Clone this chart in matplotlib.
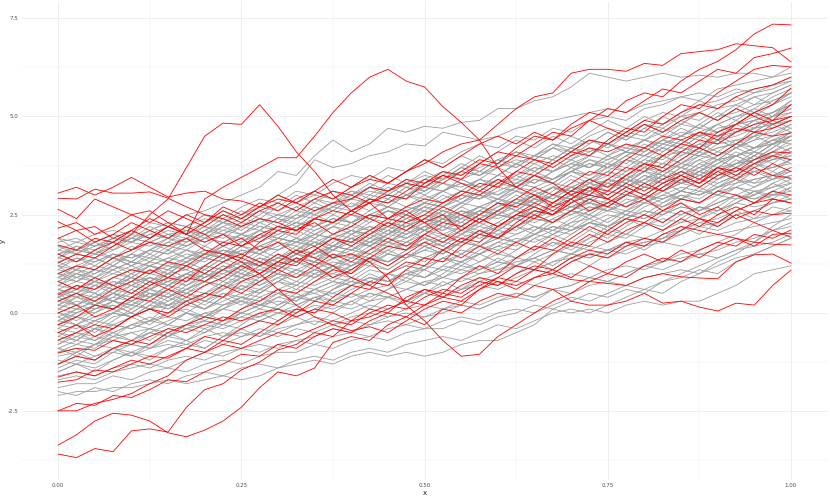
import matplotlib
matplotlib.use("Agg")
import matplotlib.pyplot as plt
from matplotlib.ticker import FixedLocator

x_vals = [0.0, 0.025, 0.05, 0.075, 0.1, 0.125, 0.15, 0.175, 0.2, 0.225,
          0.25, 0.275, 0.3, 0.325, 0.35, 0.375, 0.4, 0.425, 0.45, 0.475,
          0.5, 0.525, 0.55, 0.575, 0.6, 0.625, 0.65, 0.675, 0.7, 0.725,
          0.75, 0.775, 0.8, 0.825, 0.85, 0.875, 0.9, 0.925, 0.95, 0.975, 1.0]

x_ticks = [0.0, 0.25, 0.5, 0.75, 1.0]
x_tick_labels = ["0.00", "0.25", "0.50", "0.75", "1.00"]
y_ticks = [-2.5, 0.0, 2.5, 5.0, 7.5]
y_tick_labels = ["-2.5", "0.0", "2.5", "5.0", "7.5"]

grey_lines = [
    [-2.1,-2.0,-2.0,-1.9,-1.9,-1.8,-1.7,-1.8,-1.7,-1.6,-1.7,-1.6,-1.4,-1.3,-1.2,-1.3,-1.1,-1.0,-1.1,-1.0,-1.1,-1.0,-0.8,-0.7,-0.7,-0.5,-0.3,0.1,0.0,0.1,0.0,0.2,0.3,0.2,0.3,0.3,0.5,0.7,1.0,1.1,1.2],
    [-2.0,-2.1,-1.9,-2.0,-1.8,-1.7,-1.8,-1.6,-1.5,-1.6,-1.4,-1.3,-1.4,-1.2,-1.1,-1.2,-1.0,-0.9,-1.0,-0.8,-0.7,-0.6,-0.7,-0.5,-0.3,-0.4,-0.2,0.0,0.1,0.0,0.2,0.4,0.6,0.5,0.8,1.0,1.3,1.5,1.8,2.2,2.5],
    [-1.9,-1.8,-1.8,-1.6,-1.7,-1.5,-1.4,-1.5,-1.3,-1.2,-1.3,-1.1,-1.0,-1.0,-0.8,-0.9,-0.7,-0.6,-0.7,-0.5,-0.4,-0.4,-0.2,-0.3,-0.1,0.0,0.2,0.1,0.3,0.5,0.4,0.6,0.5,0.8,0.9,1.1,1.0,1.3,1.5,1.7,1.9],
    [-1.7,-1.6,-1.7,-1.5,-1.4,-1.3,-1.4,-1.2,-1.0,-1.1,-0.9,-0.8,-0.9,-0.7,-0.6,-0.4,-0.5,-0.3,-0.2,-0.3,-0.1,0.0,0.2,0.1,0.3,0.4,0.3,0.6,0.7,0.9,0.8,1.0,1.2,1.3,1.5,1.6,1.8,2.0,2.3,2.5,2.7],
    [-1.5,-1.3,-1.4,-1.2,-1.0,-1.1,-0.9,-0.8,-0.9,-0.6,-0.5,-0.6,-0.4,-0.3,-0.1,-0.2,0.0,0.2,0.1,0.3,0.5,0.4,0.6,0.8,0.7,0.9,1.1,1.0,1.3,1.5,1.4,1.6,1.8,1.9,2.1,2.3,2.4,2.6,2.8,3.0,3.2],
    [-1.3,-1.1,-1.2,-0.9,-1.0,-0.8,-0.6,-0.7,-0.5,-0.3,-0.4,-0.2,0.0,-0.1,0.1,0.3,0.2,0.5,0.4,0.6,0.8,0.7,0.9,1.1,1.3,1.2,1.4,1.6,1.5,1.8,2.0,1.9,2.2,2.4,2.3,2.6,2.8,3.0,3.2,3.4,3.6],
    [-1.2,-1.3,-1.1,-1.0,-1.1,-0.9,-0.8,-0.9,-0.7,-0.8,-0.6,-0.5,-0.6,-0.4,-0.5,-0.3,-0.2,-0.3,-0.1,0.0,-0.1,0.1,0.2,0.1,0.3,0.5,0.4,0.6,0.7,0.9,0.8,1.0,1.2,1.1,1.3,1.5,1.6,1.8,1.9,2.1,2.2],
    [-1.0,-0.8,-0.9,-0.6,-0.5,-0.7,-0.4,-0.3,-0.1,-0.2,0.0,0.2,0.1,0.4,0.5,0.3,0.6,0.8,0.7,1.0,1.2,1.1,1.3,1.5,1.7,1.6,1.9,2.1,2.0,2.3,2.5,2.4,2.7,2.9,3.1,3.0,3.3,3.5,3.8,4.0,4.2],
    [-0.9,-1.0,-0.8,-0.7,-0.8,-0.5,-0.6,-0.4,-0.3,-0.4,-0.2,-0.1,0.1,0.0,0.2,0.1,0.3,0.5,0.4,0.6,0.5,0.7,0.9,0.8,1.0,1.2,1.1,1.3,1.5,1.4,1.6,1.8,1.7,2.0,2.1,2.3,2.2,2.5,2.6,2.8,2.9],
    [-0.8,-0.6,-0.7,-0.5,-0.3,-0.4,-0.2,0.0,-0.1,0.2,0.3,0.1,0.4,0.6,0.5,0.7,0.9,0.8,1.0,1.2,1.1,1.4,1.3,1.5,1.7,1.9,1.8,2.0,2.2,2.1,2.4,2.6,2.5,2.8,3.0,2.9,3.2,3.4,3.6,3.7,3.9],
    [-0.7,-0.5,-0.6,-0.3,-0.4,-0.2,0.0,0.1,-0.1,0.2,0.4,0.3,0.6,0.5,0.8,1.0,0.9,1.2,1.1,1.4,1.6,1.5,1.8,1.7,2.0,2.2,2.1,2.4,2.6,2.5,2.8,3.0,3.2,3.1,3.4,3.6,3.8,4.0,4.2,4.4,4.6],
    [-0.6,-0.7,-0.4,-0.5,-0.3,-0.2,-0.3,0.0,-0.1,0.1,0.3,0.2,0.4,0.3,0.6,0.5,0.7,0.9,0.8,1.0,0.9,1.2,1.1,1.3,1.5,1.4,1.6,1.8,1.7,1.9,2.1,2.0,2.3,2.2,2.5,2.7,2.6,2.9,3.0,3.2,3.4],
    [-0.5,-0.3,-0.4,-0.1,0.0,-0.2,0.2,0.3,0.1,0.4,0.6,0.5,0.8,0.7,1.0,1.2,1.1,1.4,1.3,1.6,1.8,1.7,2.0,2.2,2.1,2.4,2.6,2.5,2.8,3.0,2.9,3.2,3.4,3.6,3.5,3.8,4.0,4.2,4.4,4.7,4.9],
    [-0.4,-0.5,-0.2,-0.3,-0.1,0.1,0.0,0.2,0.1,0.3,0.5,0.4,0.6,0.8,0.7,0.9,0.8,1.1,1.0,1.2,1.4,1.3,1.5,1.7,1.6,1.8,2.0,1.9,2.1,2.3,2.2,2.5,2.4,2.7,2.9,2.8,3.1,3.2,3.4,3.5,3.7],
    [-0.3,-0.1,-0.2,0.0,0.2,0.1,0.3,0.5,0.4,0.6,0.8,0.7,0.9,1.1,1.0,1.2,1.4,1.3,1.5,1.4,1.7,1.9,1.8,2.0,2.2,2.1,2.4,2.3,2.6,2.8,2.7,3.0,2.9,3.2,3.4,3.3,3.6,3.8,3.9,4.1,4.3],
    [-0.2,-0.3,-0.1,0.0,-0.1,0.1,0.2,0.0,0.3,0.2,0.4,0.3,0.5,0.4,0.6,0.8,0.7,0.9,0.8,1.0,1.1,0.9,1.2,1.1,1.3,1.2,1.4,1.6,1.5,1.7,1.6,1.8,1.9,1.8,2.0,2.2,2.1,2.3,2.4,2.5,2.6],
    [-0.1,0.1,0.0,0.3,0.2,0.5,0.4,0.6,0.8,0.7,1.0,0.9,1.2,1.4,1.3,1.6,1.5,1.8,2.0,1.9,2.2,2.1,2.4,2.6,2.5,2.8,3.0,2.9,3.2,3.4,3.3,3.6,3.8,3.7,4.0,4.2,4.4,4.6,4.8,5.0,5.2],
    [0.0,0.2,0.1,0.3,0.2,0.4,0.6,0.5,0.7,0.9,0.8,1.0,1.2,1.1,1.3,1.2,1.5,1.4,1.6,1.8,1.7,1.9,2.1,2.0,2.2,2.4,2.3,2.5,2.7,2.6,2.8,3.0,2.9,3.1,3.3,3.2,3.5,3.6,3.8,3.9,4.0],
    [0.1,0.0,0.2,0.1,0.3,0.5,0.4,0.6,0.5,0.7,0.6,0.8,1.0,0.9,1.1,1.0,1.2,1.4,1.3,1.5,1.4,1.6,1.8,1.7,1.9,1.8,2.0,2.2,2.1,2.3,2.2,2.4,2.6,2.5,2.7,2.6,2.8,3.0,2.9,3.0,3.1],
    [0.2,0.4,0.3,0.5,0.7,0.6,0.8,1.0,0.9,1.1,1.3,1.2,1.4,1.6,1.5,1.7,1.9,1.8,2.0,2.2,2.1,2.3,2.5,2.4,2.6,2.8,2.7,3.0,2.9,3.2,3.4,3.3,3.6,3.5,3.8,4.0,3.9,4.2,4.4,4.5,4.7],
    [0.3,0.2,0.4,0.3,0.5,0.4,0.7,0.6,0.8,1.0,0.9,1.1,1.0,1.3,1.2,1.4,1.6,1.5,1.7,1.6,1.8,2.0,1.9,2.1,2.0,2.2,2.4,2.3,2.5,2.7,2.6,2.8,3.0,2.9,3.1,3.0,3.2,3.4,3.3,3.4,3.5],
    [0.4,0.6,0.5,0.8,0.7,1.0,0.9,1.2,1.4,1.3,1.6,1.5,1.8,1.7,2.0,2.2,2.1,2.4,2.3,2.6,2.8,2.7,3.0,2.9,3.2,3.4,3.3,3.6,3.8,3.7,4.0,4.2,4.1,4.4,4.6,4.5,4.8,5.0,5.1,5.3,5.5],
    [0.5,0.4,0.6,0.8,0.7,0.9,0.8,1.0,1.2,1.1,1.3,1.2,1.4,1.6,1.5,1.7,1.6,1.9,1.8,2.0,2.2,2.1,2.3,2.2,2.5,2.4,2.6,2.8,2.7,2.9,3.1,3.0,3.2,3.4,3.3,3.5,3.4,3.6,3.8,3.7,3.9],
    [0.6,0.8,0.7,0.9,1.1,1.0,1.2,1.1,1.4,1.3,1.5,1.7,1.6,1.8,1.7,2.0,1.9,2.1,2.3,2.2,2.4,2.3,2.6,2.5,2.7,2.9,2.8,3.0,3.2,3.1,3.3,3.2,3.5,3.4,3.7,3.6,3.9,4.0,4.2,4.3,4.4],
    [0.7,0.6,0.8,0.7,0.9,0.8,1.0,1.1,0.9,1.2,1.1,1.3,1.2,1.4,1.3,1.5,1.4,1.6,1.8,1.7,1.9,1.8,2.0,1.9,2.1,2.0,2.2,2.1,2.3,2.4,2.2,2.5,2.4,2.6,2.5,2.7,2.6,2.8,2.7,2.8,2.9],
    [0.8,1.0,0.9,1.1,1.3,1.2,1.4,1.6,1.5,1.7,1.9,1.8,2.0,2.2,2.1,2.3,2.5,2.4,2.6,2.5,2.8,2.7,3.0,2.9,3.2,3.1,3.4,3.3,3.6,3.5,3.8,3.7,4.0,3.9,4.2,4.1,4.4,4.5,4.7,4.8,5.0],
    [0.9,0.8,1.0,1.2,1.1,1.3,1.2,1.4,1.3,1.6,1.5,1.7,1.9,1.8,2.0,1.9,2.1,2.0,2.3,2.2,2.4,2.3,2.5,2.7,2.6,2.8,2.7,3.0,2.9,3.1,3.3,3.2,3.4,3.3,3.6,3.5,3.7,3.8,3.9,4.0,4.1],
    [1.0,1.2,1.1,1.4,1.3,1.6,1.5,1.8,2.0,1.9,2.2,2.1,2.4,2.3,2.6,2.8,2.7,3.0,2.9,3.2,3.1,3.4,3.6,3.5,3.8,3.7,4.0,4.2,4.1,4.4,4.3,4.6,4.5,4.8,5.0,4.9,5.2,5.3,5.5,5.6,5.8],
    [1.1,1.0,1.2,1.1,1.3,1.2,1.4,1.3,1.5,1.6,1.4,1.7,1.6,1.8,1.7,1.9,1.8,2.0,2.2,2.1,2.3,2.2,2.4,2.3,2.5,2.4,2.6,2.5,2.7,2.8,2.6,2.9,2.8,3.0,2.9,3.1,3.0,3.2,3.1,3.2,3.3],
    [1.2,1.1,1.3,1.5,1.4,1.6,1.5,1.7,1.9,1.8,2.0,1.9,2.1,2.3,2.2,2.4,2.3,2.5,2.7,2.6,2.8,2.7,3.0,2.9,3.1,3.3,3.2,3.4,3.6,3.5,3.7,3.6,3.9,3.8,4.1,4.0,4.3,4.4,4.5,4.6,4.8],
    [1.3,1.5,1.4,1.6,1.8,1.7,1.9,1.8,2.1,2.0,2.2,2.4,2.3,2.5,2.4,2.7,2.6,2.9,2.8,3.0,3.2,3.1,3.3,3.2,3.5,3.4,3.7,3.6,3.8,4.0,3.9,4.1,4.0,4.3,4.2,4.5,4.6,4.8,4.9,5.1,5.3],
    [1.4,1.3,1.5,1.4,1.6,1.8,1.7,1.9,1.8,2.0,1.9,2.1,2.0,2.2,2.4,2.3,2.5,2.4,2.6,2.5,2.7,2.6,2.8,2.7,2.9,3.1,3.0,3.2,3.1,3.3,3.2,3.4,3.3,3.5,3.4,3.6,3.5,3.7,3.6,3.7,3.8],
    [1.5,1.7,1.6,1.9,1.8,2.1,2.3,2.2,2.5,2.4,2.7,2.9,2.8,3.1,3.0,3.3,3.5,3.4,3.7,3.6,3.9,3.8,4.1,4.3,4.2,4.5,4.4,4.7,4.6,4.9,5.0,4.9,5.2,5.3,5.5,5.4,5.7,5.8,5.9,6.0,6.1],
    [1.6,1.5,1.7,1.9,1.8,2.0,1.9,2.1,2.0,2.2,2.4,2.3,2.5,2.4,2.6,2.8,2.7,2.9,2.8,3.0,2.9,3.1,3.3,3.2,3.4,3.3,3.5,3.4,3.6,3.8,3.7,3.9,3.8,4.0,4.1,4.0,4.2,4.3,4.2,4.4,4.5],
    [1.7,1.6,1.8,2.0,1.9,2.1,2.3,2.2,2.4,2.3,2.5,2.7,2.6,2.8,3.0,2.9,3.1,3.0,3.3,3.2,3.4,3.6,3.5,3.7,3.9,3.8,4.0,3.9,4.2,4.1,4.3,4.5,4.4,4.6,4.8,4.7,5.0,5.1,5.3,5.4,5.6],
    [1.9,1.8,2.0,2.1,2.0,2.3,2.2,2.5,2.6,2.8,3.0,3.2,3.6,3.5,4.0,4.4,4.1,4.3,4.7,4.6,4.75,4.7,4.85,4.9,5.2,5.2,5.4,5.5,5.75,6.1,6.0,5.9,6.0,6.1,6.0,6.05,6.0,6.1,6.1,6.0,6.26],
    [1.5,1.6,1.5,1.7,1.9,1.8,2.0,2.1,2.0,2.3,2.5,2.7,3.0,3.3,3.9,3.7,3.8,4.0,4.1,4.3,4.25,4.6,4.5,4.4,4.5,4.7,4.8,4.9,5.0,5.1,5.2,5.1,5.3,5.4,5.5,5.6,5.5,5.7,5.6,5.8,5.9],
    [0.4,0.6,0.8,0.7,1.0,1.2,1.1,1.4,1.6,1.5,1.8,2.0,1.9,2.2,2.4,2.3,2.6,2.8,2.7,3.0,3.2,3.1,3.4,3.6,3.5,3.8,4.0,3.9,4.2,4.4,4.3,4.6,4.8,4.7,5.0,5.1,5.3,5.4,5.6,5.7,5.9],
    [-1.4,-1.2,-1.3,-1.0,-0.8,-0.9,-0.6,-0.4,-0.5,-0.2,0.0,-0.1,0.2,0.4,0.3,0.6,0.8,0.7,1.0,1.2,1.1,1.4,1.6,1.5,1.8,2.0,2.2,2.1,2.4,2.6,2.8,2.7,3.0,3.3,3.5,3.7,4.0,4.3,4.7,5.0,5.4],
    [1.8,1.9,1.7,1.8,2.0,1.9,2.1,2.0,2.2,2.1,2.3,2.2,2.1,2.3,2.2,2.4,2.3,2.5,2.4,2.3,2.5,2.4,2.6,2.5,2.4,2.6,2.5,2.7,2.6,2.8,2.7,2.6,2.8,2.7,2.9,2.8,3.0,2.9,3.1,3.0,3.0],
    [-1.1,-1.0,-0.8,-0.9,-0.7,-0.5,-0.6,-0.3,-0.2,-0.3,0.0,0.2,0.1,0.4,0.3,0.6,0.8,0.7,1.0,0.9,1.2,1.4,1.3,1.6,1.8,1.7,2.0,2.2,2.1,2.4,2.6,2.5,2.8,3.0,3.2,3.1,3.4,3.7,3.9,4.2,4.5],
    [0.0,-0.1,0.1,0.2,0.0,0.3,0.2,0.4,0.3,0.5,0.4,0.6,0.5,0.7,0.6,0.8,0.7,0.9,0.8,1.0,0.9,1.1,1.0,1.2,1.1,1.3,1.4,1.2,1.5,1.4,1.6,1.5,1.7,1.8,1.7,1.9,2.0,2.1,2.2,2.3,2.4],
    [0.9,1.1,1.0,1.3,1.5,1.4,1.7,1.6,1.9,2.1,2.0,2.3,2.5,2.4,2.7,2.6,2.9,3.1,3.0,3.3,3.5,3.4,3.7,3.6,3.9,4.1,4.0,4.3,4.2,4.5,4.7,4.6,4.9,5.1,5.0,5.3,5.4,5.6,5.7,5.8,6.0],
    [-0.5,-0.6,-0.4,-0.3,-0.4,-0.2,-0.1,-0.2,0.0,0.1,0.0,0.2,0.3,0.2,0.4,0.5,0.4,0.6,0.7,0.6,0.8,0.9,0.8,1.0,1.1,1.2,1.1,1.3,1.4,1.5,1.6,1.7,1.8,1.9,2.0,2.2,2.3,2.5,2.6,2.8,3.0],
    [0.2,0.1,0.3,0.5,0.4,0.6,0.8,0.7,0.9,1.1,1.0,1.3,1.2,1.5,1.4,1.7,1.6,1.9,2.1,2.0,2.2,2.4,2.3,2.6,2.5,2.8,2.7,3.0,3.2,3.1,3.4,3.3,3.6,3.8,3.7,4.0,4.2,4.3,4.5,4.8,5.0],
    [1.2,1.4,1.3,1.5,1.4,1.6,1.8,1.7,1.9,1.8,2.0,2.2,2.1,2.3,2.2,2.4,2.3,2.5,2.7,2.6,2.8,2.7,2.9,3.1,3.0,3.2,3.1,3.3,3.2,3.4,3.6,3.5,3.7,3.6,3.8,3.7,3.9,4.0,4.1,4.0,4.2],
    [-0.9,-0.7,-0.8,-0.6,-0.7,-0.5,-0.3,-0.4,-0.2,-0.3,-0.1,0.1,0.0,0.2,0.4,0.3,0.5,0.4,0.6,0.8,0.7,0.9,1.1,1.0,1.2,1.4,1.3,1.5,1.7,1.6,1.8,2.0,1.9,2.1,2.3,2.4,2.6,2.8,3.0,3.3,3.5],
    [0.6,0.5,0.7,0.6,0.8,0.9,0.8,1.0,1.2,1.1,1.3,1.2,1.4,1.3,1.5,1.7,1.6,1.8,1.7,1.9,2.1,2.0,2.2,2.1,2.3,2.2,2.4,2.6,2.5,2.7,2.6,2.8,3.0,2.9,3.1,3.0,3.2,3.3,3.4,3.5,3.6],
    [1.6,1.8,1.7,1.9,1.8,2.0,2.2,2.1,2.3,2.5,2.4,2.6,2.5,2.7,2.9,2.8,3.0,3.2,3.1,3.3,3.2,3.4,3.6,3.5,3.7,3.9,3.8,4.0,3.9,4.1,4.3,4.2,4.4,4.3,4.5,4.7,4.6,4.8,4.9,5.0,5.1],
    [-0.3,-0.4,-0.2,0.0,-0.1,0.2,0.1,0.3,0.5,0.4,0.7,0.6,0.8,1.0,0.9,1.1,1.3,1.2,1.5,1.4,1.6,1.8,1.7,2.0,1.9,2.2,2.4,2.3,2.6,2.5,2.8,3.0,2.9,3.2,3.4,3.3,3.6,3.8,4.0,4.3,4.6],
    [0.3,0.5,0.4,0.6,0.5,0.8,0.7,0.9,1.1,1.0,1.2,1.1,1.3,1.5,1.4,1.6,1.8,1.7,1.9,1.8,2.0,2.2,2.1,2.3,2.5,2.4,2.6,2.5,2.7,2.9,2.8,3.0,3.2,3.1,3.3,3.5,3.4,3.6,3.7,3.9,4.0],
    [-0.7,-0.8,-0.6,-0.7,-0.5,-0.4,-0.5,-0.3,-0.4,-0.2,-0.1,-0.2,0.0,0.1,0.0,0.2,0.1,0.3,0.4,0.3,0.5,0.4,0.6,0.7,0.6,0.8,0.7,0.9,1.0,0.9,1.1,1.2,1.1,1.3,1.4,1.5,1.4,1.6,1.7,1.8,2.0],
    [1.0,0.9,1.1,1.0,1.2,1.4,1.3,1.5,1.4,1.6,1.5,1.7,1.9,1.8,2.0,1.9,2.1,2.0,2.2,2.4,2.3,2.5,2.4,2.6,2.5,2.7,2.9,2.8,3.0,2.9,3.1,3.0,3.2,3.1,3.3,3.4,3.3,3.5,3.6,3.5,3.7],
    [0.5,0.7,0.6,0.9,0.8,1.1,1.0,1.3,1.5,1.4,1.7,1.6,1.9,1.8,2.1,2.3,2.2,2.5,2.4,2.7,2.6,2.9,3.1,3.0,3.3,3.2,3.5,3.4,3.7,3.9,3.8,4.1,4.0,4.3,4.5,4.4,4.7,4.8,5.0,5.1,5.3],
    [-1.6,-1.5,-1.6,-1.4,-1.3,-1.4,-1.2,-1.1,-1.2,-1.0,-0.9,-1.0,-0.8,-0.7,-0.8,-0.6,-0.5,-0.6,-0.4,-0.3,-0.4,-0.2,-0.1,-0.2,0.0,0.1,0.0,0.2,0.4,0.3,0.5,0.7,0.6,0.8,1.0,1.2,1.4,1.6,1.8,2.1,2.3],
    [1.4,1.6,1.5,1.7,1.9,1.8,2.0,1.9,2.1,2.3,2.2,2.4,2.3,2.6,2.5,2.7,2.9,2.8,3.0,2.9,3.1,3.3,3.2,3.4,3.3,3.5,3.7,3.6,3.8,3.7,3.9,4.1,4.0,4.2,4.1,4.3,4.5,4.6,4.7,4.8,4.9],
    [0.1,0.3,0.2,0.4,0.3,0.5,0.4,0.6,0.8,0.7,0.9,0.8,1.0,0.9,1.1,1.3,1.2,1.4,1.3,1.5,1.4,1.6,1.8,1.7,1.9,1.8,2.0,2.2,2.1,2.3,2.2,2.4,2.6,2.5,2.7,2.6,2.8,3.0,2.9,3.1,3.3],
    [-0.2,0.0,0.2,0.1,0.4,0.6,0.5,0.8,1.0,0.9,1.2,1.4,1.3,1.6,1.8,1.7,2.0,2.2,2.1,2.4,2.6,2.5,2.8,3.0,2.9,3.2,3.4,3.3,3.6,3.8,3.7,4.0,4.2,4.4,4.3,4.6,4.8,5.0,5.2,5.5,5.7],
    [0.7,0.9,0.8,1.0,0.9,1.2,1.1,1.3,1.5,1.4,1.6,1.5,1.7,1.9,1.8,2.0,2.2,2.1,2.3,2.2,2.4,2.6,2.5,2.7,2.9,2.8,3.0,3.2,3.1,3.3,3.5,3.4,3.6,3.8,3.7,3.9,4.1,4.0,4.2,4.3,4.5],
    [-1.0,-0.9,-1.1,-0.9,-0.8,-0.9,-0.7,-0.8,-0.6,-0.5,-0.6,-0.4,-0.5,-0.3,-0.2,-0.3,-0.1,0.0,-0.1,0.1,0.2,0.1,0.3,0.2,0.4,0.5,0.4,0.6,0.5,0.7,0.8,0.7,0.9,1.0,1.1,1.0,1.2,1.4,1.5,1.7,1.9],
    [0.3,0.5,0.2,0.4,0.7,0.5,0.3,0.6,0.9,1.2,1.0,0.8,1.1,1.4,1.3,1.7,2.0,1.8,2.1,1.9,2.2,2.5,2.3,2.6,2.9,2.7,2.5,2.8,3.1,3.4,3.2,3.5,3.3,3.6,3.9,4.2,4.0,4.3,4.1,4.4,4.3],
    [-0.6,-0.3,-0.5,-0.2,0.1,0.4,0.2,0.5,0.3,0.6,0.9,0.7,1.0,1.3,1.1,0.9,1.2,1.5,1.8,1.6,1.9,1.7,2.0,2.3,2.1,2.4,2.7,2.5,2.8,3.1,2.9,3.2,3.0,3.3,3.6,3.4,3.7,4.0,3.8,4.1,3.9],
    [1.2,0.9,1.1,1.4,1.2,1.0,1.3,1.1,1.4,1.7,1.5,1.3,1.6,1.9,1.7,2.0,2.3,2.1,1.9,2.2,2.5,2.3,2.6,2.4,2.7,3.0,2.8,3.1,3.4,3.2,3.0,3.3,3.6,3.4,3.7,3.5,3.8,4.1,3.9,4.2,4.5],
    [0.0,-0.2,0.1,0.3,0.1,0.4,0.7,0.5,0.8,0.6,0.9,1.2,1.0,0.8,1.1,1.4,1.2,1.5,1.3,1.6,1.9,1.7,1.5,1.8,2.1,2.4,2.2,2.0,2.3,2.6,2.9,2.7,3.0,2.8,3.1,3.4,3.2,3.5,3.3,3.6,3.4],
    [0.8,1.1,0.9,1.2,1.5,1.3,1.6,1.9,1.7,2.0,1.8,2.1,2.4,2.2,2.5,2.3,2.6,2.9,2.7,3.0,2.8,3.1,3.4,3.2,3.5,3.8,3.6,3.9,3.7,4.0,4.3,4.1,4.4,4.2,4.5,4.8,4.6,4.9,4.7,5.0,5.2],
    [-0.9,-1.1,-0.8,-0.5,-0.7,-0.4,-0.6,-0.3,0.0,-0.2,0.1,0.4,0.2,0.5,0.3,0.6,0.9,0.7,1.0,0.8,1.1,1.4,1.2,1.5,1.3,1.6,1.9,1.7,2.0,2.3,2.1,2.4,2.2,2.5,2.8,2.6,2.9,3.2,3.0,3.3,3.1],
    [0.5,0.2,0.4,0.7,0.9,0.7,1.0,0.8,1.1,1.4,1.2,1.5,1.3,1.6,1.9,1.7,2.0,2.2,2.0,2.3,2.6,2.4,2.7,3.0,2.8,3.1,2.9,3.2,3.5,3.3,3.6,3.9,3.7,4.0,3.8,4.1,4.4,4.2,4.5,4.3,4.6],
    [1.5,1.3,1.6,1.4,1.7,1.5,1.8,2.1,1.9,2.2,2.0,2.3,2.1,2.4,2.7,2.5,2.8,2.6,2.9,3.2,3.0,3.3,3.1,3.4,3.7,3.5,3.8,3.6,3.9,4.2,4.0,4.3,4.1,4.4,4.7,4.5,4.8,4.6,4.9,5.1,5.4],
    [-0.2,0.1,0.3,0.1,-0.1,0.2,0.5,0.3,0.1,0.4,0.7,0.5,0.8,1.1,0.9,1.2,1.0,1.3,1.6,1.4,1.7,1.5,1.8,2.1,1.9,2.2,2.0,2.3,2.6,2.4,2.7,2.5,2.8,3.1,2.9,3.2,3.0,3.3,3.6,3.4,3.7],
    [0.9,1.2,1.4,1.2,1.5,1.8,1.6,1.9,2.2,2.0,2.3,2.6,2.4,2.7,2.5,2.8,3.1,2.9,3.2,3.0,3.3,3.6,3.4,3.2,3.5,3.8,3.6,3.9,4.2,4.0,4.3,4.1,4.4,4.7,4.5,4.8,5.1,4.9,5.2,5.0,5.3],
    [-1.3,-1.0,-1.2,-0.9,-1.1,-0.8,-0.5,-0.7,-0.4,-0.6,-0.3,0.0,-0.2,0.1,0.4,0.2,0.5,0.3,0.6,0.9,0.7,1.0,1.3,1.1,1.4,1.2,1.5,1.8,1.6,1.9,2.2,2.0,2.3,2.1,2.4,2.7,2.5,2.8,3.1,2.9,3.2],
    [0.4,0.7,0.5,0.3,0.6,0.9,0.7,1.0,0.8,1.1,0.9,1.2,1.5,1.3,1.6,1.4,1.7,1.5,1.8,2.1,1.9,2.2,2.0,2.3,2.6,2.4,2.7,2.5,2.8,3.1,2.9,3.2,3.0,3.3,3.1,3.4,3.7,3.5,3.8,3.6,3.9],
    [1.7,1.5,1.8,1.6,1.9,2.2,2.0,1.8,2.1,2.4,2.2,2.5,2.8,2.6,2.9,2.7,3.0,3.3,3.1,3.4,3.2,3.5,3.8,3.6,3.9,3.7,4.0,4.3,4.1,4.4,4.2,4.5,4.8,4.6,4.9,4.7,5.0,5.3,5.1,5.4,5.6],
    [-0.4,-0.1,-0.3,0.0,0.3,0.1,0.4,0.2,0.5,0.8,0.6,0.9,1.2,1.0,1.3,1.1,1.4,1.7,1.5,1.8,2.1,1.9,2.2,2.0,2.3,2.6,2.4,2.7,3.0,2.8,3.1,3.4,3.2,3.5,3.3,3.6,3.9,3.7,4.0,4.3,4.1],
    [0.6,0.4,0.7,0.5,0.8,0.6,0.9,1.2,1.0,1.3,1.1,1.4,1.2,1.5,1.8,1.6,1.9,1.7,2.0,2.3,2.1,2.4,2.2,2.5,2.8,2.6,2.9,2.7,3.0,2.8,3.1,3.4,3.2,3.5,3.3,3.6,3.4,3.7,4.0,3.8,4.1],
    [1.1,1.4,1.2,1.5,1.3,1.6,1.9,1.7,2.0,2.3,2.1,2.4,2.2,2.5,2.8,2.6,2.9,3.2,3.0,3.3,3.1,3.4,3.7,3.5,3.8,4.1,3.9,4.2,4.0,4.3,4.6,4.4,4.7,4.5,4.8,5.1,4.9,5.2,5.0,5.3,5.6],
    [-0.1,-0.3,0.0,0.2,0.0,0.3,0.1,0.4,0.2,0.5,0.3,0.6,0.9,0.7,1.0,0.8,1.1,1.4,1.2,1.5,1.3,1.6,1.9,1.7,2.0,1.8,2.1,2.4,2.2,2.5,2.3,2.6,2.9,2.7,3.0,2.8,3.1,3.4,3.2,3.5,3.3],
    [0.2,0.5,0.8,0.6,0.9,0.7,1.0,1.3,1.1,1.4,1.7,1.5,1.8,1.6,1.9,2.2,2.0,2.3,2.6,2.4,2.7,2.5,2.8,3.1,2.9,3.2,3.5,3.3,3.6,3.4,3.7,4.0,3.8,4.1,4.4,4.2,4.5,4.3,4.6,4.9,4.7],
    [1.3,1.1,1.4,1.2,1.0,1.3,1.6,1.4,1.7,1.5,1.8,2.1,1.9,2.2,2.0,2.3,2.6,2.4,2.7,2.5,2.8,3.1,2.9,3.2,3.0,3.3,3.6,3.4,3.7,3.5,3.8,3.6,3.9,4.2,4.0,4.3,4.1,4.4,4.2,4.5,4.8],
    [-0.8,-0.5,-0.7,-0.4,-0.1,-0.3,0.0,0.3,0.1,0.4,0.2,0.5,0.8,0.6,0.9,1.2,1.0,1.3,1.1,1.4,1.7,1.5,1.8,2.1,1.9,2.2,2.5,2.3,2.6,2.9,2.7,3.0,3.3,3.1,3.4,3.7,3.5,3.8,4.1,3.9,4.2],
    [0.7,1.0,0.8,1.1,0.9,1.2,1.0,1.3,1.6,1.4,1.7,2.0,1.8,2.1,1.9,2.2,2.5,2.3,2.6,2.4,2.7,3.0,2.8,3.1,3.4,3.2,3.5,3.3,3.6,3.9,3.7,4.0,4.3,4.1,4.4,4.2,4.5,4.8,4.6,4.9,5.1],
    [-0.5,-0.7,-0.4,-0.6,-0.3,-0.1,-0.3,0.0,-0.2,0.1,0.4,0.2,0.5,0.3,0.6,0.4,0.7,1.0,0.8,1.1,0.9,1.2,1.5,1.3,1.6,1.4,1.7,2.0,1.8,2.1,1.9,2.2,2.5,2.3,2.6,2.4,2.7,3.0,2.8,3.1,2.9],
    [1.0,0.8,1.1,1.4,1.2,1.5,1.3,1.6,1.4,1.7,2.0,1.8,2.1,1.9,2.2,2.5,2.3,2.6,2.9,2.7,3.0,2.8,3.1,3.4,3.2,3.5,3.3,3.6,3.9,3.7,4.0,3.8,4.1,4.4,4.2,4.5,4.3,4.6,4.9,4.7,4.9],
    [0.1,0.4,0.2,0.5,0.3,0.6,0.9,0.7,1.0,0.8,1.1,1.4,1.2,1.5,1.8,1.6,1.9,1.7,2.0,2.3,2.1,2.4,2.2,2.5,2.8,2.6,2.9,3.2,3.0,3.3,3.1,3.4,3.7,3.5,3.8,4.1,3.9,4.2,4.0,4.3,4.5],
    [1.9,1.6,1.8,2.0,1.8,2.1,1.9,2.2,2.5,2.3,2.6,2.4,2.7,3.0,2.8,3.1,2.9,3.2,3.5,3.3,3.6,3.4,3.7,4.0,3.8,4.1,3.9,4.2,4.5,4.3,4.6,4.4,4.7,5.0,4.8,5.1,4.9,5.2,5.5,5.3,5.6],
    [-1.5,-1.3,-1.5,-1.2,-1.0,-1.2,-0.9,-0.7,-0.9,-0.6,-0.4,-0.6,-0.3,-0.1,-0.3,0.0,0.3,0.1,0.4,0.2,0.5,0.8,0.6,0.9,0.7,1.0,1.3,1.1,1.4,1.2,1.5,1.8,1.6,1.9,2.2,2.0,2.3,2.6,2.4,2.7,2.6],
    [0.4,0.2,0.5,0.3,0.6,0.4,0.7,1.0,0.8,1.1,0.9,1.2,1.5,1.3,1.6,1.4,1.7,2.0,1.8,2.1,2.4,2.2,2.5,2.3,2.6,2.9,2.7,3.0,2.8,3.1,3.4,3.2,3.5,3.3,3.6,3.9,3.7,4.0,3.8,4.1,4.4],
    [-0.3,0.0,0.2,0.5,0.3,0.6,0.4,0.7,1.0,0.8,1.1,0.9,1.2,1.5,1.3,1.6,1.9,1.7,2.0,2.3,2.1,2.4,2.7,2.5,2.8,2.6,2.9,3.2,3.0,3.3,3.6,3.4,3.7,4.0,3.8,4.1,4.4,4.2,4.5,4.8,4.6],
    [0.8,0.6,0.9,0.7,1.0,0.8,1.1,0.9,1.2,1.5,1.3,1.6,1.4,1.7,1.5,1.8,2.1,1.9,2.2,2.0,2.3,2.6,2.4,2.7,2.5,2.8,3.1,2.9,3.2,3.0,3.3,3.1,3.4,3.7,3.5,3.8,3.6,3.9,3.7,4.0,3.8],
    [1.4,1.7,1.5,1.8,2.1,1.9,2.2,2.0,2.3,2.6,2.4,2.7,3.0,2.8,3.1,2.9,3.2,3.5,3.3,3.6,3.9,3.7,4.0,3.8,4.1,4.4,4.2,4.5,4.3,4.6,4.9,4.7,5.0,4.8,5.1,5.4,5.2,5.5,5.3,5.6,5.8],
]

red_lines = [
    [-3.59,-3.68,-3.45,-3.53,-3.0,-2.95,-3.03,-2.4,-1.95,-1.8,-1.45,-1.25,-0.94,-0.8,-0.5,-0.6,-0.2,0.1,0.0,0.4,0.6,0.5,0.9,1.2,1.0,1.4,1.7,1.6,1.9,2.2,2.0,2.3,2.5,2.3,2.6,2.4,2.2,2.5,2.3,2.1,1.93],
    [-3.36,-3.1,-2.75,-2.55,-2.6,-2.75,-3.05,-3.15,-2.98,-2.75,-2.4,-1.9,-1.5,-1.6,-1.4,-0.75,-0.6,-0.7,-0.3,-0.1,-0.3,0.1,0.0,0.3,0.5,0.4,0.7,0.6,0.3,0.2,0.2,0.3,0.5,0.25,0.3,0.15,0.05,0.25,0.2,0.7,1.09],
    [-2.49,-2.49,-2.3,-2.2,-2.05,-1.8,-1.6,-1.2,-1.0,-0.7,-0.8,-0.5,-0.2,0.1,0.0,0.4,0.7,0.6,1.0,1.3,1.2,1.6,1.9,1.8,2.2,2.5,2.4,2.8,3.1,3.0,3.4,3.7,3.6,4.0,4.3,4.2,4.6,4.8,5.1,5.3,5.72],
    [-2.49,-2.3,-2.35,-2.1,-2.15,-1.95,-1.7,-1.75,-1.5,-1.3,-1.05,-1.1,-0.8,-0.9,-0.6,-0.4,-0.5,-0.2,0.0,-0.1,0.2,0.5,0.4,0.7,0.9,0.8,1.1,1.0,1.3,1.5,1.4,1.7,1.9,1.8,2.1,2.4,2.3,2.6,2.8,3.1,3.0],
    [-1.76,-1.7,-1.45,-1.5,-1.3,-1.1,-1.15,-0.9,-0.6,-0.7,-0.4,-0.2,-0.3,0.0,0.3,0.2,0.5,0.8,0.7,1.1,1.4,1.3,1.7,2.0,1.9,2.3,2.6,2.5,2.9,3.2,3.1,3.5,3.8,3.7,4.1,4.4,4.3,4.6,4.8,4.9,5.0],
    [-1.63,-1.5,-1.6,-1.4,-1.2,-1.3,-1.1,-0.9,-1.0,-0.8,-0.9,-0.7,-0.5,-0.6,-0.4,-0.2,-0.3,0.0,0.2,0.1,0.4,0.6,0.5,0.8,0.7,1.0,1.2,1.1,1.4,1.6,1.5,1.8,1.7,2.0,2.2,2.1,2.0,1.9,1.8,1.75,1.73],
    [-1.02,-0.9,-0.95,-0.7,-0.8,-0.6,-0.4,-0.5,-0.3,-0.1,-0.2,0.0,0.1,-0.1,0.1,0.0,-0.2,-0.1,0.1,0.3,0.2,0.4,0.3,0.6,0.8,0.7,0.9,1.0,0.85,0.8,0.75,0.7,0.9,1.0,0.92,0.89,0.87,1.3,1.48,1.5,1.27],
    [-0.69,-0.5,-0.3,-0.4,-0.1,0.1,0.0,0.3,0.5,0.4,0.8,1.0,1.3,1.2,1.6,1.9,1.8,2.1,2.4,2.3,2.5,2.8,3.0,3.3,3.2,3.6,3.9,3.8,4.1,4.4,4.3,4.6,4.9,4.8,5.1,5.3,5.2,5.5,5.7,5.8,6.0],
    [0.46,0.7,0.6,0.9,1.1,1.0,1.3,1.2,1.5,1.8,1.7,2.0,2.2,2.1,2.4,2.6,2.5,2.8,3.0,2.9,3.3,3.5,3.4,3.8,4.1,4.0,4.3,4.6,4.5,4.9,5.2,5.1,5.4,5.7,5.6,5.9,6.2,6.1,6.5,6.6,6.74],
    [1.27,1.5,1.4,1.7,2.0,2.5,2.9,3.7,4.5,4.83,4.8,5.3,4.75,4.1,3.6,3.0,2.6,2.8,2.4,2.6,2.3,2.5,2.1,2.4,2.2,2.5,2.7,2.5,2.8,3.0,2.9,3.2,3.0,3.3,3.5,3.3,3.6,3.4,3.7,3.5,3.43],
    [1.73,1.6,1.9,1.8,2.1,1.9,2.2,2.0,2.9,3.2,3.45,3.7,3.95,3.95,4.5,5.1,5.6,6.0,6.2,5.9,5.75,5.25,4.85,4.4,3.7,3.2,3.0,2.7,2.9,2.6,2.8,3.1,2.9,3.2,3.5,3.3,3.7,3.6,3.9,4.1,4.07],
    [3.05,3.2,3.0,3.2,3.45,3.2,2.95,3.05,3.1,2.9,2.85,2.7,2.9,2.8,2.6,2.8,2.9,3.2,3.1,3.4,3.3,3.6,3.5,3.8,3.7,4.0,3.9,3.7,4.0,4.2,4.1,4.3,4.2,4.5,4.4,4.6,4.5,4.7,4.6,4.5,4.58],
    [2.92,2.9,3.15,3.05,3.05,3.08,2.92,2.7,2.5,2.4,2.2,2.4,2.3,2.1,2.3,2.0,2.2,2.5,2.4,2.7,2.9,2.8,3.1,3.0,3.3,3.6,3.5,3.8,4.1,4.0,4.4,4.7,4.6,5.0,5.3,5.2,5.6,5.9,6.2,6.3,6.26],
    [2.64,2.4,2.9,2.7,2.5,2.6,2.3,2.0,1.8,2.0,1.7,1.9,2.2,2.1,2.4,2.3,2.6,2.9,2.8,3.1,3.4,3.3,3.6,3.9,3.8,4.2,4.5,4.4,4.8,5.1,5.0,5.4,5.6,5.5,5.9,6.2,6.4,6.7,7.1,7.35,7.33],
    [2.32,2.1,2.2,1.9,2.1,2.4,2.2,2.5,2.3,2.7,2.5,2.8,2.6,2.9,3.1,2.9,3.2,3.4,3.3,3.6,3.8,4.1,4.3,4.4,4.8,5.2,5.5,5.6,6.1,6.2,6.2,6.15,6.35,6.3,6.6,6.65,6.7,6.85,6.8,6.75,6.39],
    [2.16,2.3,2.0,2.2,2.5,2.3,2.6,2.4,2.2,2.5,2.3,2.6,2.8,2.6,2.9,3.1,3.0,2.8,3.1,3.3,3.2,3.5,3.3,3.1,3.4,3.2,3.5,3.3,3.0,3.2,2.9,2.7,2.9,2.6,2.8,2.5,2.7,2.4,2.6,2.5,2.54],
    [1.9,2.1,1.8,2.0,2.3,2.1,1.9,2.2,2.0,1.7,1.9,1.6,1.8,1.5,1.7,1.4,1.5,1.3,0.9,0.2,-0.2,-0.7,-1.1,-1.05,-0.6,-0.3,0.0,0.3,0.5,0.8,1.0,0.9,1.2,1.4,1.3,1.6,1.8,1.7,2.0,1.9,2.11],
    [1.0,1.2,1.1,1.4,1.6,1.8,1.7,1.9,1.6,1.5,1.3,1.0,0.6,0.2,-0.1,-0.3,-0.45,-0.35,-0.5,-0.2,0.1,0.3,0.2,0.6,0.9,1.2,1.1,1.5,1.8,1.7,2.1,2.4,2.3,2.6,2.9,2.8,3.1,3.0,2.8,2.9,2.8],
    [0.0,0.2,-0.1,0.1,0.4,0.3,0.6,0.9,0.8,1.1,1.4,1.2,1.5,1.3,1.6,1.9,1.7,2.0,2.3,2.1,2.4,2.7,2.5,2.3,2.6,2.9,3.2,3.0,3.3,3.6,3.5,3.9,4.2,4.0,4.3,4.6,4.4,4.8,5.1,4.9,5.3],
    [-0.3,-0.1,0.2,0.1,0.4,0.7,0.9,0.8,1.2,1.5,1.4,1.8,2.1,2.0,2.4,2.3,2.6,2.4,2.2,2.5,2.3,2.0,1.8,2.1,1.9,2.2,2.5,2.3,2.6,2.9,2.7,3.0,3.3,3.1,3.4,3.2,3.5,3.7,3.5,3.8,3.6],
    [0.8,0.6,0.9,0.7,0.5,0.8,0.6,0.4,0.7,0.9,1.2,1.0,1.3,1.6,1.4,1.2,0.9,0.7,0.5,0.3,0.6,0.4,0.7,0.9,0.8,0.6,0.9,1.1,0.9,1.2,1.0,1.3,1.5,1.3,1.6,1.4,1.7,1.9,1.7,2.0,2.03],
    [-1.3,-1.1,-1.2,-0.9,-0.7,-0.8,-0.5,-0.3,-0.1,-0.2,0.1,0.3,0.6,0.5,0.8,1.1,1.0,1.4,1.7,1.6,2.0,2.3,2.2,2.5,2.8,2.7,3.0,2.8,3.1,3.4,3.2,3.5,3.8,3.6,3.9,4.2,4.0,4.3,4.6,4.7,4.9],
    [1.5,1.3,1.6,1.8,1.6,1.9,2.2,2.0,2.3,2.6,2.4,2.7,3.0,2.8,3.1,3.4,3.2,3.5,3.3,3.6,3.9,3.7,4.0,4.3,4.5,4.3,4.6,4.4,4.7,4.9,4.7,4.5,4.8,4.6,4.9,5.1,4.9,5.2,5.0,4.8,5.0],
    [0.3,0.5,0.3,0.6,0.8,1.1,0.9,1.2,1.0,1.3,1.5,1.3,1.1,1.4,1.2,0.9,1.1,1.4,1.2,1.5,1.8,1.6,1.4,1.7,1.5,1.8,1.6,1.9,1.7,2.0,1.8,2.1,2.3,2.1,2.4,2.2,2.5,2.7,2.5,2.9,2.8],
    [-0.5,-0.3,-0.6,-0.4,-0.1,0.1,-0.1,0.2,0.4,0.7,0.5,0.8,1.1,0.9,1.2,1.5,1.3,1.6,1.9,1.7,2.0,1.8,2.1,2.4,2.2,2.5,2.8,2.6,2.9,3.2,3.0,3.3,3.1,3.4,3.6,3.4,3.7,3.5,3.8,4.0,3.9],
]

W, H = 830, 498
fig = plt.figure(figsize=(W / 100, H / 100), dpi=100)
fig.patch.set_facecolor("white")
left_px, right_px, top_px, bottom_px = 21.5, 827.6, 2.5, 480.0
ax = fig.add_axes([left_px / W, 1 - bottom_px / H,
                   (right_px - left_px) / W, (bottom_px - top_px) / H])
ax.set_facecolor("white")

for ys in grey_lines:
    ax.plot(x_vals, ys, color="#9e9e9e", lw=0.6, solid_joinstyle="round", zorder=2)
for ys in red_lines:
    ax.plot(x_vals, ys, color="#ff0000", lw=0.6, solid_joinstyle="round", zorder=3)

ax.set_xlim(-0.05, 1.05)
ax.set_ylim(-4.25, 7.9)
ax.xaxis.set_major_locator(FixedLocator(x_ticks))
ax.yaxis.set_major_locator(FixedLocator(y_ticks))
ax.set_xticklabels(x_tick_labels)
ax.set_yticklabels(y_tick_labels)
ax.xaxis.set_minor_locator(FixedLocator([0.125, 0.375, 0.625, 0.875]))
ax.yaxis.set_minor_locator(FixedLocator([-3.75, -1.25, 1.25, 3.75, 6.25]))
ax.grid(which="major", color="#ebebeb", lw=0.6, zorder=0)
ax.grid(which="minor", color="#ebebeb", lw=0.35, zorder=0)
ax.set_axisbelow(True)
for s in ax.spines.values():
    s.set_visible(False)
ax.tick_params(which="both", length=0)
ax.tick_params(axis="x", labelsize=4, labelcolor="#4d4d4d", pad=2.5)
ax.tick_params(axis="y", labelsize=4, labelcolor="#4d4d4d", pad=2.0)
ax.set_xlabel("x", fontsize=5, color="#222222", labelpad=1.0)
ax.set_ylabel("y", fontsize=5, color="#222222", labelpad=1.5)

fig.savefig("out.png", dpi=100, facecolor="white")
